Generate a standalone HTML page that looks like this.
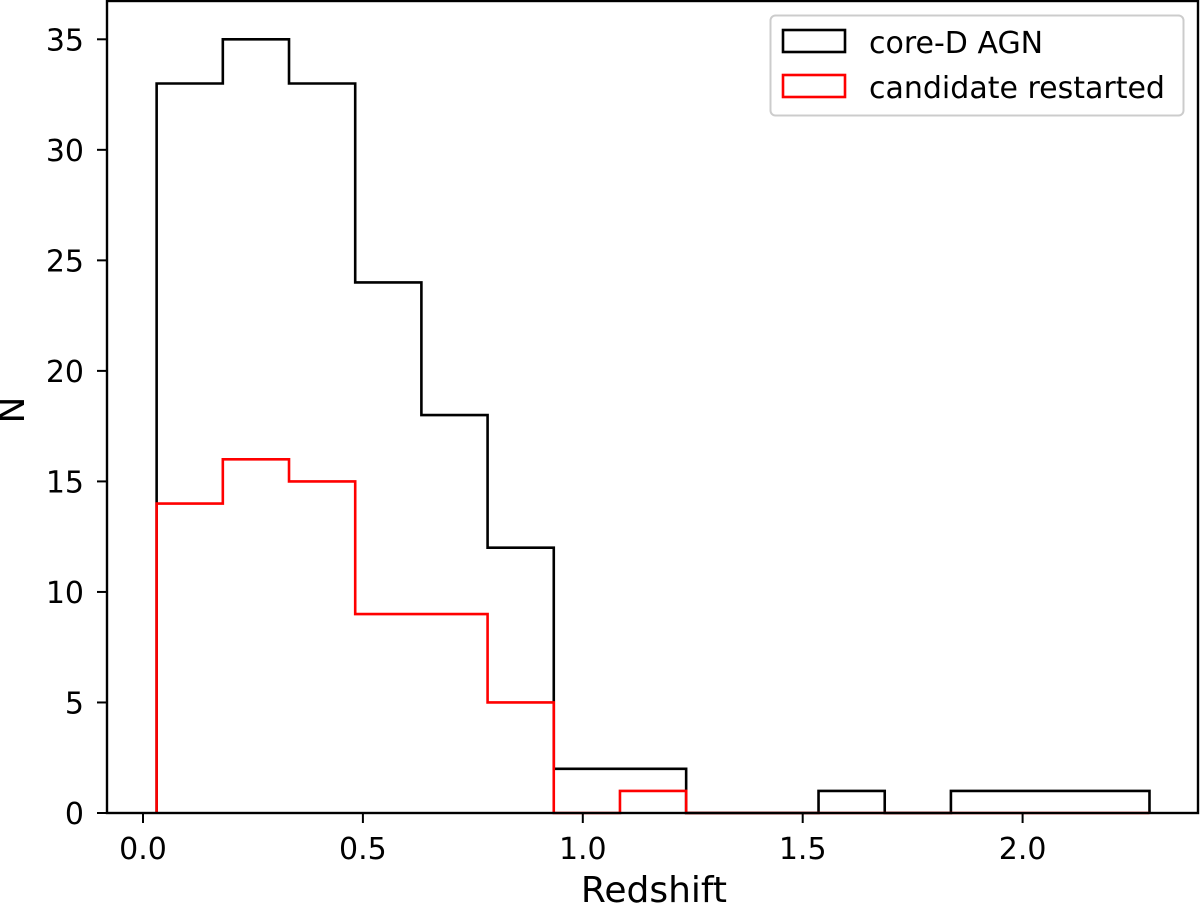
<!DOCTYPE html>
<html><head><meta charset="utf-8"><style>
body{margin:0;background:#fff;position:relative;}
svg text{font-family:"DejaVu Sans","Liberation Sans",sans-serif;fill:#000;}
</style></head><body>
<svg width="1200" height="906" xmlns="http://www.w3.org/2000/svg">
<g id="plot"></g>
</svg>
<script>
const binStart = 0.031;
const binWidth = 0.1505;
const coreCounts = [33,35,33,24,18,12,2,2,0,0,1,0,1,1,1];
const restartedCounts = [14,16,15,9,9,5,0,1,0,0,0,0,0,0,0];
const xTicks = [0.0,0.5,1.0,1.5,2.0];
const xTickLabels = ["0.0","0.5","1.0","1.5","2.0"];
const yTicks = [0,5,10,15,20,25,30,35];
const yTickLabels = ["0","5","10","15","20","25","30","35"];

const L=107,R=1198,T=1,B=813;
const xs = v => 143 + v*439.8;
const ys = v => B - v*(B-39.3)/35;
const g = document.getElementById('plot');
const NS='http://www.w3.org/2000/svg';
function mk(tag, attrs){const e=document.createElementNS(NS,tag);for(const k in attrs)e.setAttribute(k,attrs[k]);g.appendChild(e);return e;}

function stepPath(counts){
  let d='M'+xs(binStart)+','+ys(0);
  counts.forEach((c,i)=>{
    const x0=xs(binStart+i*binWidth), x1=xs(binStart+(i+1)*binWidth);
    d+=' L'+x0+','+ys(c)+' L'+x1+','+ys(c);
  });
  d+=' L'+xs(binStart+counts.length*binWidth)+','+ys(0);
  return d;
}
const p1=mk('path',{d:stepPath(coreCounts),fill:'none',stroke:'#000','stroke-width':2.6});


const p2=mk('path',{d:stepPath(restartedCounts),fill:'none',stroke:'#ff0000','stroke-width':2.6});



const frame=mk('rect',{x:L,y:T,width:R-L,height:B-T,fill:'none',stroke:'#000','stroke-width':2.4});



xTicks.forEach((v,i)=>{
  const t=mk('line',{x1:xs(v),x2:xs(v),y1:B,y2:B+10,stroke:'#000','stroke-width':2});
  
  
  const l=mk('text',{x:xs(v),y:859,'text-anchor':'middle','font-size':30});
  l.textContent=xTickLabels[i];
  
  
});
yTicks.forEach((v,i)=>{
  const t=mk('line',{x1:L-10,x2:L,y1:ys(v),y2:ys(v),stroke:'#000','stroke-width':2});
  
  
  const l=mk('text',{x:84,y:ys(v)+11,'text-anchor':'end','font-size':30});
  l.textContent=yTickLabels[i];
  
  
});
</script>
<svg width="1200" height="906" style="position:absolute;left:0;top:0">
<text x="654" y="902" text-anchor="middle" font-size="36">Redshift</text>
<text x="0" y="0" transform="translate(24,410) rotate(-90)" text-anchor="middle" font-size="36">N</text>
<g>
<rect x="770.5" y="15.5" width="413" height="100" rx="5" fill="#fff" fill-opacity="0.8" stroke="#ccc" stroke-width="2"/>
<rect x="783" y="30" width="62" height="22" fill="none" stroke="#000" stroke-width="2.6"/>
<text x="869" y="53" font-size="30">core-D AGN</text>
<rect x="783" y="75" width="62" height="22" fill="none" stroke="#ff0000" stroke-width="2.6"/>
<text x="869" y="98" font-size="30">candidate restarted</text>
</g>
</svg>
</body></html>
